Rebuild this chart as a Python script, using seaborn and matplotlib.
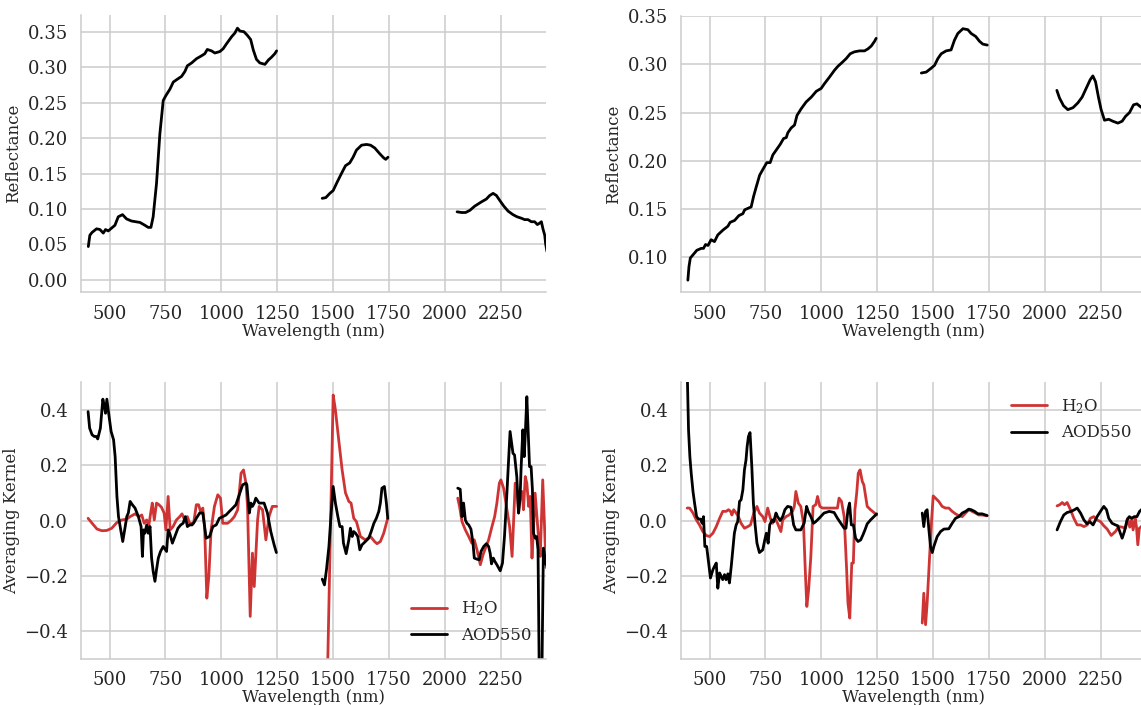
import numpy as np
import matplotlib
matplotlib.use("Agg")
import matplotlib.pyplot as plt
import seaborn as sns

# ---------------------------------------------------------------------------
# Reflectance spectra (wavelength in nm), split into the three band windows
# ---------------------------------------------------------------------------
refl_a_wl1 = [405, 412, 422, 442, 457, 472, 482, 494, 509, 524, 539, 558, 576, 598,
              636, 658, 673, 685, 695, 710, 725, 740, 752, 770, 785, 803, 822, 837,
              848, 867, 889, 911, 926, 937, 956, 971, 993, 1008, 1023, 1046, 1060,
              1072, 1083, 1101, 1116, 1131, 1143, 1157, 1172, 1195, 1210, 1224,
              1239, 1247]
refl_a_v1 = [0.047, 0.063, 0.067, 0.072, 0.071, 0.066, 0.071, 0.069, 0.073, 0.077,
             0.089, 0.092, 0.086, 0.083, 0.081, 0.077, 0.074, 0.074, 0.089, 0.136,
             0.206, 0.253, 0.260, 0.269, 0.279, 0.283, 0.287, 0.294, 0.302, 0.306,
             0.312, 0.316, 0.319, 0.325, 0.323, 0.320, 0.322, 0.326, 0.333, 0.343,
             0.348, 0.355, 0.351, 0.350, 0.345, 0.339, 0.324, 0.311, 0.306, 0.304,
             0.310, 0.314, 0.319, 0.323]
refl_a_wl2 = [1451, 1467, 1485, 1500, 1518, 1537, 1555, 1574, 1589, 1604, 1627, 1649,
              1667, 1686, 1708, 1726, 1735, 1745]
refl_a_v2 = [0.115, 0.116, 0.122, 0.126, 0.138, 0.150, 0.161, 0.165, 0.173, 0.183,
             0.190, 0.191, 0.190, 0.186, 0.178, 0.172, 0.170, 0.173]
refl_a_wl3 = [2054, 2074, 2092, 2111, 2133, 2163, 2185, 2200, 2215, 2230, 2245, 2263,
              2282, 2304, 2322, 2341, 2356, 2371, 2386, 2401, 2413, 2423, 2431, 2438,
              2446, 2450, 2456]
refl_a_v3 = [0.096, 0.095, 0.095, 0.098, 0.104, 0.110, 0.114, 0.119, 0.122, 0.119,
             0.112, 0.104, 0.097, 0.092, 0.089, 0.087, 0.085, 0.085, 0.082, 0.082,
             0.078, 0.080, 0.082, 0.072, 0.063, 0.051, 0.040]

refl_b_wl1 = [403, 408, 414, 425, 443, 463, 473, 482, 493, 507, 522, 537, 560, 582,
              592, 612, 631, 649, 657, 676, 686, 697, 709, 724, 741, 756, 771, 783,
              801, 816, 831, 843, 850, 865, 880, 891, 910, 932, 955, 977, 999, 1014,
              1037, 1059, 1074, 1093, 1111, 1129, 1148, 1171, 1193, 1208, 1223,
              1238, 1245]
refl_b_v1 = [0.076, 0.090, 0.099, 0.102, 0.107, 0.109, 0.109, 0.113, 0.112, 0.118,
             0.116, 0.123, 0.128, 0.132, 0.136, 0.138, 0.143, 0.145, 0.149, 0.151,
             0.152, 0.163, 0.173, 0.185, 0.192, 0.198, 0.198, 0.206, 0.212, 0.217,
             0.223, 0.224, 0.229, 0.234, 0.237, 0.247, 0.254, 0.261, 0.266, 0.272,
             0.275, 0.280, 0.287, 0.294, 0.298, 0.302, 0.306, 0.311, 0.313, 0.314,
             0.314, 0.316, 0.319, 0.324, 0.327]
refl_b_wl2 = [1447, 1469, 1491, 1506, 1521, 1536, 1558, 1580, 1595, 1610, 1633, 1655,
              1670, 1690, 1707, 1722, 1742]
refl_b_v2 = [0.291, 0.292, 0.296, 0.299, 0.306, 0.311, 0.314, 0.315, 0.325, 0.332,
             0.337, 0.336, 0.332, 0.329, 0.324, 0.321, 0.320]
refl_b_wl3 = [2053, 2065, 2083, 2102, 2125, 2147, 2166, 2184, 2202, 2214, 2226, 2239,
              2251, 2266, 2285, 2303, 2326, 2345, 2360, 2378, 2396, 2411, 2427,
              2440, 2452]
refl_b_v3 = [0.273, 0.265, 0.257, 0.253, 0.255, 0.260, 0.266, 0.275, 0.284, 0.288,
             0.282, 0.266, 0.253, 0.242, 0.243, 0.241, 0.239, 0.241, 0.246, 0.250,
             0.258, 0.259, 0.256, 0.254, 0.250]

# ---------------------------------------------------------------------------
# Averaging kernels for water vapour (H2O) and aerosol optical depth (AOD550)
# ---------------------------------------------------------------------------
ak_a_h2o_wl1 = [404, 422, 444, 466, 488, 510, 533, 555, 577, 592, 614, 632, 644, 655,
                666, 676, 685, 691, 700, 710, 721, 732, 744, 752, 762, 771, 784, 799,
                814, 824, 836, 848, 858, 876, 888, 898, 907, 917, 925, 935, 944, 954,
                969, 984, 996, 1006, 1028, 1043, 1058, 1073, 1088, 1099, 1110, 1117,
                1129, 1139, 1147, 1162, 1169, 1184, 1199, 1213, 1228, 1247]
ak_a_h2o_v1 = [0.008, -0.010, -0.031, -0.037, -0.036, -0.028, -0.007, 0.002, 0.005,
               0.014, 0.024, 0.014, 0.020, -0.010, 0.002, -0.016, 0.033, 0.063, 0.002,
               0.063, 0.057, 0.048, 0.027, -0.034, 0.087, -0.034, -0.022, 0.002,
               0.014, 0.024, 0.002, 0.014, -0.010, -0.010, 0.057, 0.057, 0.033, 0.045,
               -0.022, -0.281, -0.202, -0.034, 0.051, 0.093, 0.081, -0.010, -0.010,
               0.000, 0.014, 0.039, 0.171, 0.183, 0.135, 0.051, -0.347, -0.118,
               -0.239, 0.002, 0.051, 0.039, -0.070, 0.014, 0.051, 0.051]
ak_a_h2o_wl2 = [1466, 1500, 1510, 1525, 1540, 1555, 1570, 1580, 1592, 1604, 1622, 1644,
                1667, 1685, 1696, 1711, 1726, 1744]
ak_a_h2o_v2 = [-0.900, 0.454, 0.400, 0.290, 0.183, 0.100, 0.069, 0.063, 0.008, -0.004,
               -0.058, -0.070, -0.058, -0.076, -0.084, -0.076, -0.046, 0.008]
ak_a_h2o_wl3 = [2057, 2065, 2076, 2091, 2106, 2120, 2131, 2143, 2158, 2170, 2181, 2195,
                2210, 2222, 2232, 2243, 2250, 2262, 2277, 2289, 2300, 2307, 2314, 2322,
                2329, 2336, 2344, 2351, 2359, 2366, 2374, 2381, 2389, 2396, 2403, 2411,
                2418, 2426, 2437, 2444, 2452]
ak_a_h2o_v3 = [0.081, 0.051, -0.004, -0.034, -0.058, -0.082, -0.070, -0.106, -0.160,
               -0.124, -0.100, -0.070, -0.022, 0.014, 0.063, 0.135, 0.147, 0.117,
               0.039, -0.022, -0.130, 0.002, 0.135, 0.111, 0.027, 0.087, 0.105, 0.039,
               0.159, 0.135, 0.051, 0.087, -0.136, -0.022, 0.099, 0.014, -0.058,
               -0.130, 0.147, 0.002, -0.170]

ak_a_aod_wl1 = [404, 411, 422, 432, 441, 447, 459, 470, 476, 482, 488, 496, 507, 518,
                525, 533, 540, 550, 559, 570, 577, 584, 592, 602, 614, 629, 641, 647,
                652, 658, 666, 673, 681, 688, 695, 703, 710, 718, 728, 740, 755, 762,
                769, 781, 792, 806, 818, 829, 839, 848, 858, 869, 880, 888, 903, 917,
                932, 947, 962, 977, 991, 1006, 1021, 1036, 1051, 1065, 1080, 1095,
                1110, 1114, 1125, 1132, 1139, 1147, 1154, 1169, 1191, 1206, 1221,
                1236, 1246]
ak_a_aod_v1 = [0.394, 0.334, 0.310, 0.304, 0.304, 0.295, 0.334, 0.439, 0.418, 0.388,
               0.439, 0.388, 0.322, 0.292, 0.231, 0.087, 0.014, -0.034, -0.076,
               -0.022, 0.014, 0.027, 0.069, 0.057, 0.045, 0.014, -0.022, -0.130,
               -0.034, -0.046, -0.016, -0.046, -0.022, -0.136, -0.184, -0.220, -0.178,
               -0.136, -0.112, -0.094, -0.112, -0.034, -0.046, -0.082, -0.058, -0.028,
               -0.016, -0.010, 0.014, -0.022, -0.016, -0.016, -0.004, 0.008, 0.027,
               0.027, -0.064, -0.058, -0.022, -0.016, 0.008, 0.014, 0.020, 0.033,
               0.045, 0.057, 0.093, 0.129, 0.135, 0.129, 0.027, 0.063, 0.051, 0.063,
               0.081, 0.063, 0.063, 0.027, -0.040, -0.088, -0.116]
ak_a_aod_wl2 = [1451, 1461, 1470, 1481, 1491, 1500, 1510, 1521, 1530, 1540, 1546, 1558,
                1570, 1577, 1585, 1592, 1600, 1610, 1619, 1629, 1644, 1659, 1670, 1682,
                1693, 1704, 1711, 1718, 1729, 1738, 1744]
ak_a_aod_v2 = [-0.212, -0.233, -0.178, -0.094, 0.027, 0.123, 0.063, 0.014, -0.022,
               -0.022, -0.082, -0.120, -0.070, -0.028, -0.058, -0.040, -0.046, -0.058,
               -0.106, -0.088, -0.076, -0.064, -0.040, -0.010, 0.008, 0.033, 0.063,
               0.117, 0.123, 0.063, 0.008]
ak_a_aod_wl3 = [2057, 2068, 2076, 2083, 2091, 2098, 2106, 2116, 2125, 2131, 2143, 2153,
                2161, 2173, 2185, 2195, 2202, 2208, 2216, 2223, 2232, 2247, 2257, 2266,
                2276, 2291, 2304, 2311, 2321, 2329, 2336, 2340, 2348, 2354, 2358, 2366,
                2370, 2378, 2385, 2391, 2396, 2403, 2410, 2416, 2422, 2432, 2440, 2446,
                2452]
ak_a_aod_v3 = [0.117, 0.113, 0.014, 0.063, 0.002, -0.010, -0.016, -0.031, -0.080,
               -0.136, -0.140, -0.142, -0.112, -0.094, -0.084, -0.094, -0.118, -0.157,
               -0.136, -0.148, -0.160, -0.182, -0.154, -0.058, 0.087, 0.322, 0.243,
               0.237, 0.159, 0.027, 0.087, 0.183, 0.328, 0.231, 0.292, 0.448, 0.364,
               0.195, 0.195, 0.111, -0.046, -0.064, -0.058, -0.106, -0.600, -0.650,
               -0.100, -0.130, -0.160]

ak_b_h2o_wl1 = [400, 411, 426, 441, 455, 470, 485, 500, 515, 530, 545, 559, 574, 585,
                594, 600, 608, 619, 629, 641, 656, 671, 683, 698, 712, 723, 738, 748,
                760, 772, 782, 793, 804, 819, 827, 842, 856, 871, 879, 886, 897, 908,
                920, 928, 935, 943, 953, 963, 975, 983, 993, 1005, 1027, 1049, 1072,
                1079, 1090, 1102, 1113, 1119, 1127, 1136, 1143, 1150, 1158, 1165,
                1173, 1183, 1190, 1198, 1205, 1220, 1235, 1247]
ak_b_h2o_v1 = [0.045, 0.045, 0.027, 0.002, -0.016, -0.040, -0.054, -0.058, -0.046,
               -0.022, 0.008, 0.033, 0.033, 0.039, 0.033, 0.020, 0.039, 0.027, 0.014,
               -0.010, -0.028, -0.022, -0.016, 0.027, 0.051, 0.027, 0.014, -0.004,
               0.045, 0.008, -0.010, 0.008, -0.010, -0.040, 0.002, 0.014, 0.020,
               0.033, 0.051, 0.105, 0.063, 0.051, -0.010, -0.178, -0.311, -0.251,
               -0.130, 0.051, 0.057, 0.087, 0.051, 0.045, 0.045, 0.045, 0.045, 0.081,
               0.069, 0.014, -0.178, -0.299, -0.353, -0.154, -0.154, 0.039, 0.099,
               0.171, 0.183, 0.141, 0.129, 0.087, 0.051, 0.039, 0.029, 0.020]
ak_b_h2o_wl2 = [1451, 1458, 1466, 1473, 1484, 1493, 1500, 1510, 1525, 1540, 1555, 1570,
                1585, 1600, 1615, 1630, 1645, 1659, 1674, 1689, 1704, 1719, 1741]
ak_b_h2o_v2 = [-0.371, -0.263, -0.377, -0.299, -0.130, 0.002, 0.089, 0.081, 0.069,
               0.051, 0.045, 0.045, 0.033, 0.024, 0.017, 0.014, 0.027, 0.039, 0.033,
               0.027, 0.020, 0.020, 0.017]
ak_b_h2o_wl3 = [2054, 2066, 2077, 2087, 2099, 2114, 2129, 2144, 2159, 2174, 2189, 2203,
                2218, 2233, 2248, 2263, 2278, 2296, 2315, 2330, 2345, 2360, 2370, 2379,
                2387, 2394, 2403, 2409, 2415, 2422, 2431, 2449]
ak_b_h2o_v3 = [0.053, 0.057, 0.065, 0.057, 0.065, 0.039, 0.008, -0.016, -0.016,
               -0.022, -0.016, 0.008, 0.014, 0.002, -0.004, -0.019, -0.031, -0.054,
               -0.040, -0.022, -0.024, -0.028, 0.008, -0.024, 0.002, -0.034, 0.008,
               -0.022, -0.088, -0.028, -0.022, -0.004]

ak_b_aod_wl1 = [398, 406, 412, 418, 426, 433, 442, 451, 460, 467, 473, 479, 487, 496,
                504, 515, 522, 530, 537, 545, 552, 559, 567, 574, 582, 589, 597, 604,
                611, 619, 626, 634, 641, 649, 656, 663, 668, 674, 681, 689, 696, 703,
                712, 723, 738, 747, 754, 762, 769, 780, 787, 797, 804, 816, 827, 837,
                849, 864, 876, 886, 908, 923, 934, 941, 953, 965, 975, 990, 1012, 1035,
                1057, 1072, 1087, 1102, 1110, 1119, 1126, 1134, 1143, 1153, 1164,
                1176, 1186, 1195, 1205, 1220, 1235, 1247]
ak_b_aod_v1 = [0.620, 0.328, 0.231, 0.171, 0.105, 0.063, 0.014, 0.005, 0.005, -0.010,
               0.014, -0.094, -0.094, -0.154, -0.208, -0.178, -0.166, -0.154, -0.245,
               -0.190, -0.202, -0.214, -0.196, -0.214, -0.193, -0.226, -0.166, -0.106,
               -0.046, -0.016, -0.004, 0.069, 0.075, 0.111, 0.183, 0.219, 0.267,
               0.304, 0.318, 0.195, 0.063, -0.010, -0.082, -0.116, -0.106, -0.070,
               -0.046, -0.082, -0.016, 0.002, -0.004, 0.027, 0.014, 0.000, 0.014,
               0.039, 0.051, 0.048, -0.016, -0.034, -0.034, -0.010, 0.051, 0.033,
               0.014, -0.010, -0.004, 0.008, 0.027, 0.033, 0.029, 0.008, -0.010,
               -0.028, -0.028, 0.039, 0.063, -0.016, -0.016, -0.064, -0.076, -0.070,
               -0.052, -0.034, -0.012, 0.002, 0.014, 0.024]
ak_b_aod_wl2 = [1451, 1458, 1466, 1473, 1481, 1488, 1496, 1503, 1518, 1533, 1548, 1570,
                1585, 1600, 1615, 1630, 1645, 1659, 1670, 1685, 1700, 1719, 1741]
ak_b_aod_v2 = [0.027, -0.022, 0.033, 0.039, -0.034, -0.094, -0.116, -0.094, -0.058,
               -0.040, -0.031, -0.030, -0.010, 0.008, 0.014, 0.027, 0.033, 0.041,
               0.039, 0.033, 0.024, 0.024, 0.018]
ak_b_aod_wl3 = [2054, 2069, 2084, 2099, 2117, 2132, 2144, 2159, 2174, 2188, 2200, 2215,
                2233, 2248, 2263, 2275, 2285, 2300, 2315, 2325, 2337, 2345, 2355, 2367,
                2377, 2388, 2399, 2411, 2423, 2431, 2449]
ak_b_aod_v3 = [-0.034, -0.004, 0.020, 0.029, 0.033, 0.039, 0.045, 0.027, 0.002,
               -0.012, -0.004, -0.016, 0.014, 0.033, 0.051, 0.039, 0.008, -0.010,
               -0.016, -0.019, -0.046, -0.064, -0.040, 0.002, 0.014, 0.008, 0.014,
               0.014, 0.033, 0.039, 0.051]

x_ticks = [500, 750, 1000, 1250, 1500, 1750, 2000, 2250]
refl_a_yticks = [0.00, 0.05, 0.10, 0.15, 0.20, 0.25, 0.30, 0.35]
refl_b_yticks = [0.10, 0.15, 0.20, 0.25, 0.30, 0.35]
ak_yticks = [-0.4, -0.2, 0.0, 0.2, 0.4]

H2O_COLOR = "#cf3434"
AOD_COLOR = "#000000"

sns.set_theme(style="whitegrid", context="notebook")
plt.rcParams["font.family"] = ["DejaVu Serif"]
plt.rcParams["mathtext.fontset"] = "dejavuserif"

fig = plt.figure(figsize=(11.41, 7.05), dpi=100)
W, H = 1141.0, 705.0


def make_axes(x0, y0, x1, y1):
    return fig.add_axes([x0 / W, 1 - y1 / H, (x1 - x0) / W, (y1 - y0) / H])


ax_ra = make_axes(80.7, 15.0, 546.3, 292.2)
ax_rb = make_axes(680.7, 15.7, 1146.3, 292.4)
ax_ka = make_axes(80.7, 382.3, 546.3, 658.7)
ax_kb = make_axes(680.7, 382.3, 1146.3, 658.7)


def draw_segments(ax, segments, color, label=None):
    for i, (wl, val) in enumerate(segments):
        sns.lineplot(x=wl, y=val, ax=ax, color=color, lw=2.0, sort=False,
                     estimator=None, label=label if i == 0 else None, legend=False)


draw_segments(ax_ra, [(refl_a_wl1, refl_a_v1), (refl_a_wl2, refl_a_v2),
                      (refl_a_wl3, refl_a_v3)], AOD_COLOR)
draw_segments(ax_rb, [(refl_b_wl1, refl_b_v1), (refl_b_wl2, refl_b_v2),
                      (refl_b_wl3, refl_b_v3)], AOD_COLOR)

draw_segments(ax_ka, [(ak_a_h2o_wl1, ak_a_h2o_v1), (ak_a_h2o_wl2, ak_a_h2o_v2),
                      (ak_a_h2o_wl3, ak_a_h2o_v3)], H2O_COLOR, "H$_2$O")
draw_segments(ax_ka, [(ak_a_aod_wl1, ak_a_aod_v1), (ak_a_aod_wl2, ak_a_aod_v2),
                      (ak_a_aod_wl3, ak_a_aod_v3)], AOD_COLOR, "AOD550")
draw_segments(ax_kb, [(ak_b_h2o_wl1, ak_b_h2o_v1), (ak_b_h2o_wl2, ak_b_h2o_v2),
                      (ak_b_h2o_wl3, ak_b_h2o_v3)], H2O_COLOR, "H$_2$O")
draw_segments(ax_kb, [(ak_b_aod_wl1, ak_b_aod_v1), (ak_b_aod_wl2, ak_b_aod_v2),
                      (ak_b_aod_wl3, ak_b_aod_v3)], AOD_COLOR, "AOD550")

for ax in (ax_ra, ax_rb, ax_ka, ax_kb):
    ax.set_xlim(371, 2453)
    ax.set_xticks(x_ticks)
    ax.set_xlabel("Wavelength (nm)", fontsize=12, labelpad=0)
    ax.tick_params(labelsize=13, pad=3)
    ax.grid(True, color="#cccccc", lw=1.1)
    for side in ("top", "right"):
        ax.spines[side].set_visible(False)
    for side in ("left", "bottom"):
        ax.spines[side].set_color("#cccccc")
        ax.spines[side].set_linewidth(1.1)

ax_ra.set_ylim(-0.0174, 0.3736)
ax_ra.set_yticks(refl_a_yticks)
ax_rb.set_ylim(0.0633, 0.3505)
ax_rb.set_yticks(refl_b_yticks)
for ax in (ax_ra, ax_rb):
    ax.set_ylabel("Reflectance", fontsize=12, labelpad=4)

for ax in (ax_ka, ax_kb):
    ax.set_ylim(-0.5, 0.5)
    ax.set_yticks(ak_yticks)
    ax.set_ylabel("Averaging Kernel", fontsize=12, labelpad=3)

ax_ka.legend(loc="lower right", frameon=False, fontsize=12, handlelength=2.2)
ax_kb.legend(loc="upper right", frameon=False, fontsize=12, handlelength=2.2)

fig.savefig("out.png", dpi=100)
